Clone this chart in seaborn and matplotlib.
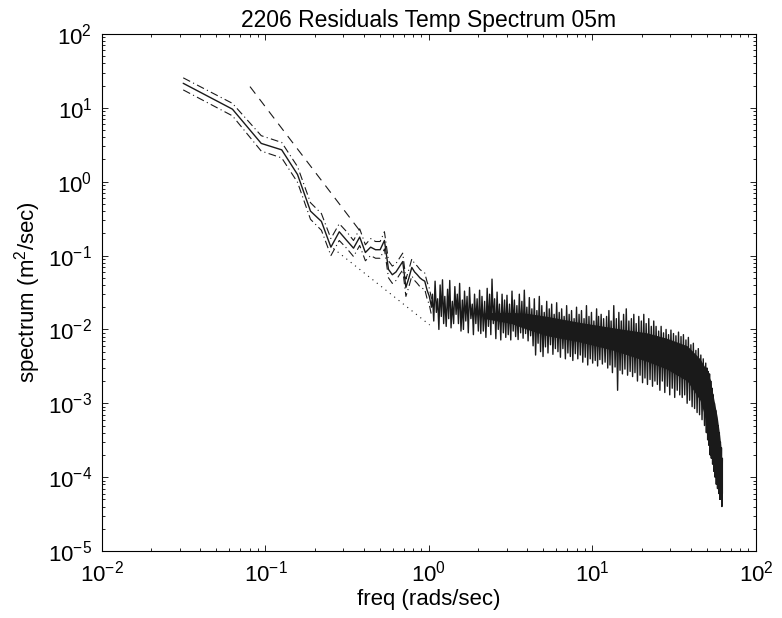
import matplotlib
matplotlib.use("Agg")
import matplotlib.pyplot as plt
import seaborn as sns
import numpy as np
import pandas as pd
from matplotlib.ticker import LogLocator, NullFormatter

# low-frequency part of the spectrum (individual points are visible here)
low_freq = [0.0314, 0.0628, 0.0942, 0.1257, 0.1571, 0.1885, 0.2199, 0.2513, 0.2827, 0.3142,
            0.3456, 0.3770, 0.4084, 0.4398, 0.4712, 0.5027, 0.5341, 0.5655, 0.5969, 0.6283,
            0.6597, 0.6912, 0.7226, 0.7540, 0.7854, 0.8168, 0.8482, 0.8796, 0.9111, 0.9425,
            0.9739, 1.0053, 1.0367]
low_val = [21.5, 9.6, 3.3, 2.7, 1.25, 0.40, 0.29, 0.13, 0.21, 0.16,
           0.126, 0.178, 0.11, 0.13, 0.12, 0.12, 0.16, 0.065, 0.055, 0.06,
           0.071, 0.083, 0.037, 0.05, 0.069, 0.06, 0.055, 0.05, 0.047, 0.045,
           0.034, 0.028, 0.02]

# dense part: peaks and troughs of the noisy spectrum
band_freq = [1.05, 1.09, 1.13, 1.17, 1.21, 1.25, 1.30, 1.34, 1.39, 1.44,
             1.49, 1.54, 1.60, 1.65, 1.71, 1.77, 1.84, 1.90, 1.97, 2.04,
             2.11, 2.19, 2.27, 2.35, 2.43, 2.52, 2.61, 2.70, 2.80, 2.90,
             3.00, 3.11, 3.22, 3.33, 3.45, 3.57, 3.70, 3.83, 3.97, 4.11,
             4.26, 4.41, 4.57, 4.73, 4.90, 5.07, 5.25, 5.44, 5.63, 5.83,
             6.04, 6.26, 6.48, 6.71, 6.95, 7.20, 7.45, 7.72, 7.99, 8.28,
             8.57, 8.88, 9.19, 9.52, 9.86, 10.2, 10.6, 10.9, 11.3, 11.7,
             12.2, 12.6, 13.0, 13.5, 14.0, 14.5, 15.0, 15.5, 16.1, 16.7,
             17.3, 17.9, 18.5, 19.2, 19.9, 20.6, 21.3, 22.1, 22.9, 23.7,
             24.5, 25.4, 26.3, 27.2, 28.2, 29.2, 30.2, 31.3, 32.4, 33.6,
             34.8, 36.0, 37.3, 38.6, 40.0, 41.4, 42.9, 44.4, 46.0, 47.6,
             49.3, 50.2, 51.1, 52.0, 52.9, 53.8, 54.8, 55.7, 56.7, 57.7,
             58.7, 59.7, 60.6, 61.5, 62.3]
band_hi = [0.030, 0.045, 0.026, 0.040, 0.047, 0.028, 0.035, 0.046, 0.024, 0.038,
           0.030, 0.042, 0.025, 0.033, 0.028, 0.037, 0.022, 0.030, 0.026, 0.034,
           0.028, 0.024, 0.036, 0.030, 0.048, 0.026, 0.032, 0.022, 0.030, 0.025,
           0.029, 0.022, 0.033, 0.025, 0.021, 0.030, 0.024, 0.034, 0.020, 0.027,
           0.019, 0.026, 0.018, 0.028, 0.021, 0.017, 0.024, 0.019, 0.022, 0.016,
           0.023, 0.017, 0.019, 0.015, 0.021, 0.016, 0.018, 0.014, 0.020, 0.016,
           0.018, 0.014, 0.021, 0.015, 0.017, 0.013, 0.019, 0.015, 0.016, 0.014,
           0.015, 0.018, 0.013, 0.021, 0.014, 0.017, 0.013, 0.016, 0.019, 0.013,
           0.014, 0.016, 0.012, 0.015, 0.013, 0.016, 0.012, 0.014, 0.011, 0.013,
           0.011, 0.0095, 0.011, 0.0090, 0.010, 0.0085, 0.0098, 0.0088, 0.0082, 0.0092,
           0.0080, 0.0085, 0.0072, 0.0078, 0.0062, 0.0065, 0.0052, 0.0055, 0.0045, 0.0040,
           0.0035, 0.0030, 0.0027, 0.0025, 0.0020, 0.0016, 0.0013, 0.0010, 0.0008, 0.0006,
           0.0005, 0.0004, 0.0003, 0.00025, 0.00018]
band_lo = [0.013, 0.017, 0.010, 0.015, 0.012, 0.011, 0.014, 0.0105, 0.012, 0.016,
           0.012, 0.0095, 0.010, 0.013, 0.009, 0.014, 0.0085, 0.012, 0.0095, 0.0088,
           0.0095, 0.0078, 0.011, 0.0085, 0.012, 0.0075, 0.010, 0.0072, 0.009, 0.0078,
           0.0085, 0.0072, 0.0095, 0.008, 0.0073, 0.009, 0.0076, 0.0088, 0.0070, 0.0082,
           0.0060, 0.0045, 0.0065, 0.0050, 0.0043, 0.0058, 0.0048, 0.0062, 0.0046, 0.0055,
           0.0050, 0.0042, 0.0055, 0.0040, 0.0048, 0.0043, 0.0038, 0.0047, 0.0040, 0.0045,
           0.0036, 0.0042, 0.0033, 0.0040, 0.0035, 0.0038, 0.0032, 0.0039, 0.0034, 0.0036,
           0.0030, 0.0033, 0.0026, 0.0031, 0.0015, 0.0028, 0.0025, 0.0029, 0.0024, 0.0027,
           0.0023, 0.0026, 0.0020, 0.0024, 0.0019, 0.0022, 0.0018, 0.0021, 0.0017, 0.0020,
           0.0018, 0.0015, 0.0020, 0.0014, 0.0017, 0.0013, 0.0016, 0.0012, 0.0015, 0.0013,
           0.0012, 0.0013, 0.0010, 0.0011, 0.0009, 0.00085, 0.00075, 0.0007, 0.0006, 0.0005,
           0.00040, 0.00032, 0.00027, 0.00020, 0.00018, 0.00015, 0.00012, 0.00010, 0.00008, 0.00007,
           0.00006, 0.00005, 0.00005, 0.00004, 0.00006]

# solid black core of the dense band
core_freq = [2.2, 3.2, 4.0, 5.3, 8.3, 13.5, 21.5, 28.5, 38.0, 45.5, 50.0, 52.5, 55.0,
             58.0, 60.0, 61.5]
core_hi = [0.017, 0.017, 0.0165, 0.015, 0.0125, 0.0105, 0.0090, 0.0076, 0.0060, 0.0040,
           0.0028, 0.0021, 0.0012, 0.00065, 0.00037, 0.00022]
core_lo = [0.014, 0.012, 0.0100, 0.0082, 0.0068, 0.0052, 0.0037, 0.0029, 0.0020, 0.0011,
           0.00055, 0.00033, 0.00018, 0.00011, 0.00008, 0.00007]

# confidence limits (dash-dot)
ci_freq = low_freq
ci_upper = [25.5, 11.5, 4.2, 3.4, 1.6, 0.52, 0.37, 0.17, 0.27, 0.21,
            0.16, 0.23, 0.14, 0.17, 0.155, 0.155, 0.21, 0.085, 0.072, 0.078,
            0.092, 0.108, 0.048, 0.065, 0.09, 0.078, 0.072, 0.065, 0.061, 0.058,
            0.044, 0.036, 0.026]
ci_lower = [17.5, 7.8, 2.6, 2.1, 0.98, 0.31, 0.22, 0.10, 0.16, 0.125,
            0.097, 0.137, 0.085, 0.10, 0.092, 0.092, 0.123, 0.05, 0.042, 0.046,
            0.055, 0.064, 0.028, 0.038, 0.053, 0.046, 0.042, 0.038, 0.036, 0.035,
            0.026, 0.0215, 0.0154]

# reference slopes
slope3_freq = [0.0804, 0.395]
slope3_val = [19.4, 0.19]
slope53_freq = [0.26, 1.01]
slope53_val = [0.125, 0.0115]

sns.set_theme(style="ticks")
plt.rcParams['font.family'] = ['Liberation Sans', 'DejaVu Sans']
plt.rcParams['mathtext.fontset'] = 'custom'
plt.rcParams['mathtext.rm'] = 'Liberation Sans'
plt.rcParams['mathtext.it'] = 'Liberation Sans'
plt.rcParams['text.color'] = 'black'
plt.rcParams['axes.labelcolor'] = 'black'
plt.rcParams['xtick.color'] = 'black'
plt.rcParams['ytick.color'] = 'black'

fig = plt.figure(figsize=(7.82, 6.18), dpi=100)
ax = fig.add_axes([0.1304, 0.1084, 0.8363, 0.8366])
ax.set(xscale='log', yscale='log')

# build the dense zigzag: peak at each anchor, trough halfway to the next
bf = np.array(band_freq)
mid = np.append(np.sqrt(bf[:-1] * bf[1:]), bf[-1])
zz_f = np.ravel(np.column_stack([bf, mid]))
zz_v = np.ravel(np.column_stack([band_hi, band_lo]))
spec = pd.DataFrame({'freq': np.concatenate([low_freq, zz_f]),
                     'spectrum': np.concatenate([low_val, zz_v])})

lw = 0.8
dark = '#1a1a1a'
ax.fill_between(core_freq, core_lo, core_hi, color=dark, lw=0)
sns.lineplot(x=ci_freq, y=ci_upper, ax=ax, color='k', lw=lw, sort=False,
             estimator=None, linestyle=(0, (7, 3, 1, 3)))
sns.lineplot(x=ci_freq, y=ci_lower, ax=ax, color='k', lw=lw, sort=False,
             estimator=None, linestyle=(0, (7, 3, 1, 3)))
sns.lineplot(data=spec, x='freq', y='spectrum', ax=ax, color=dark, lw=1.0,
             sort=False, estimator=None)
sns.lineplot(x=slope3_freq, y=slope3_val, ax=ax, color='k', lw=lw,
             sort=False, estimator=None, linestyle=(0, (8, 6)))
sns.lineplot(x=slope53_freq, y=slope53_val, ax=ax, color='k', lw=lw,
             sort=False, estimator=None, linestyle=(0, (1, 4)))

ax.set_xlim(1e-2, 1e2)
ax.set_ylim(1e-5, 1e2)
ax.set_xticks([1e-2, 1e-1, 1e0, 1e1, 1e2])
ax.set_yticks([1e-5, 1e-4, 1e-3, 1e-2, 1e-1, 1e0, 1e1, 1e2])
ax.xaxis.set_minor_locator(LogLocator(base=10, subs=np.arange(2, 10), numticks=20))
ax.yaxis.set_minor_locator(LogLocator(base=10, subs=np.arange(2, 10), numticks=20))
ax.xaxis.set_minor_formatter(NullFormatter())
ax.yaxis.set_minor_formatter(NullFormatter())
ax.tick_params(which='both', direction='in', top=True, right=True, labelsize=16, width=0.6)
ax.tick_params(which='major', length=4.5, pad=7)
ax.tick_params(which='minor', length=2.5)
for s in ax.spines.values():
    s.set_visible(True)
    s.set_linewidth(0.8)
    s.set_color('black')

ax.set_title('2206 Residuals Temp Spectrum 05m', fontsize=16.5, pad=5)
ax.set_xlabel('freq (rads/sec)', fontsize=16, labelpad=2)
ax.set_ylabel('spectrum (m$^2$/sec)', fontsize=16, labelpad=4)

fig.savefig('out.png', dpi=100)
